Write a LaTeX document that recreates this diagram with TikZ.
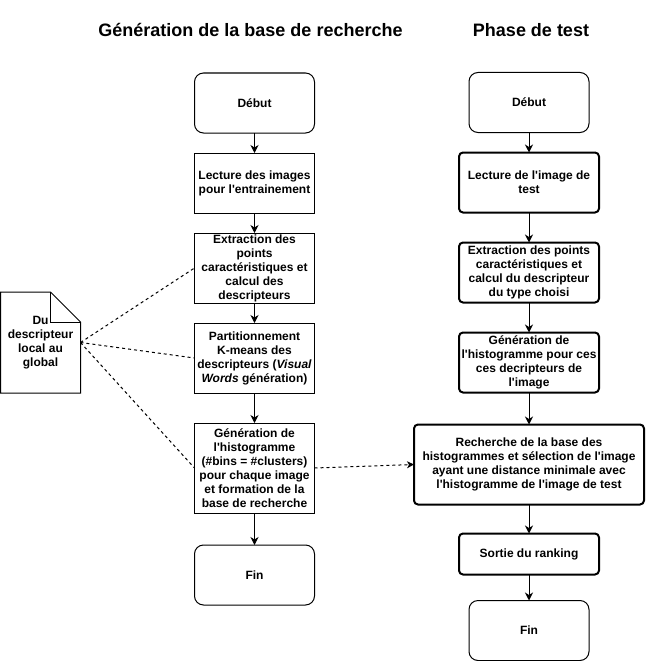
\documentclass[tikz,border=0pt]{standalone}
\usepackage{fontspec}
\setmainfont{Liberation Sans}[Ligatures=TeXOff]
\usetikzlibrary{arrows.meta, positioning}

\begin{document}
\begin{tikzpicture}[x=1pt, y=-1pt,
        every node/.style={font=\bfseries\fontsize{12}{14}\selectfont, align=center, inner sep=0pt, outer sep=0pt},
        terminal/.style={rectangle, rounded corners=9pt, draw, line width=1pt, minimum width=120pt, minimum height=60pt},
        trainstep/.style={rectangle, draw, line width=1pt, minimum width=120pt},
        teststep/.style={rectangle, rounded corners=4pt, draw, line width=2pt, minimum width=140pt},
        title/.style={font=\bfseries\fontsize{18}{22}\selectfont},
        flow/.style={-{Stealth[length=8pt, width=8pt, inset=2.5pt]}, line width=1pt},
        link/.style={line width=1pt, dash pattern=on 3pt off 3pt}
    ]

    \useasboundingbox (0,0) rectangle (645,661);

    % Titles
    \node[title] (T1) at (250.5,30) {Génération de la base de recherche};
    \node[title] (T2) at (531,30) {Phase de test};

    % Training column
    \node[terminal] (D1) at (254.5,103) {Début};
    \node[trainstep, minimum height=60pt, below=20pt of D1] (L1) {Lecture des images\\pour l'entrainement};
    \node[trainstep, minimum height=70pt, below=20pt of L1] (E1) {Extraction des\\points\\caractéristiques et\\calcul des\\descripteurs};
    \node[trainstep, minimum height=70pt, below=20pt of E1] (P1) {Partitionnement\\K-means des\\descripteurs (\textit{Visual}\\\textit{Words} génération)};
    \node[trainstep, minimum height=90pt, below=30pt of P1] (G1) {Génération de\\l'histogramme\\(\#bins = \#clusters)\\pour chaque image\\et formation de la\\base de recherche};
    \node[terminal, below=32pt of G1] (F1) {Fin};

    % Test column
    \node[terminal] (D2) at (529,102.5) {Début};
    \node[teststep, minimum height=60pt, below=20pt of D2] (L2) {Lecture de l'image de\\test};
    \node[teststep, minimum height=60pt, below=30pt of L2] (E2) {Extraction des points\\caractéristiques et\\calcul du descripteur\\du type choisi};
    \node[teststep, minimum height=60pt, below=30pt of E2] (H2) {Génération de\\l'histogramme pour ces\\ces decripteurs de\\l'image};
    \node[teststep, minimum width=230pt, minimum height=80pt, below=32pt of H2] (R2) {Recherche de la base des\\histogrammes et sélection de l'image\\ayant une distance minimale avec\\l'histogramme de l'image de test};
    \node[teststep, minimum height=41pt, below=29pt of R2] (S2) {Sortie du ranking};
    \node[terminal, below=26pt of S2] (F2) {Fin};

    % Note
    \node[minimum width=80pt, minimum height=101pt] (N) at (40.5,342.5) {Du\\descripteur\\local au\\global};
    \draw[line width=1pt] (N.north west) -- ([xshift=-30pt]N.north east) -- ([yshift=-30pt]N.north east) -- (N.south east) -- (N.south west) -- cycle;
    \draw[line width=1pt] ([xshift=-30pt]N.north east) -- ++(0,30) -- ([yshift=-30pt]N.north east);

    % Flow arrows
    \draw[flow] (D1) -- (L1);
    \draw[flow] (L1) -- (E1);
    \draw[flow] (E1) -- (P1);
    \draw[flow] (P1) -- (G1);
    \draw[flow] (G1) -- (F1);
    \draw[flow] (D2) -- (L2);
    \draw[flow] (L2) -- (E2);
    \draw[flow] (E2) -- (H2);
    \draw[flow] (H2) -- (R2);
    \draw[flow] (R2) -- (S2);
    \draw[flow] (S2) -- (F2);

    % Dashed links
    \draw[link] (N.east) -- (E1.west);
    \draw[link] (N.east) -- (P1.west);
    \draw[link] (N.east) -- (G1.west);
    \draw[link, -{Stealth[length=7pt, width=7pt, inset=2pt]}] (G1.east) -- (R2.west);

\end{tikzpicture}
\end{document}
